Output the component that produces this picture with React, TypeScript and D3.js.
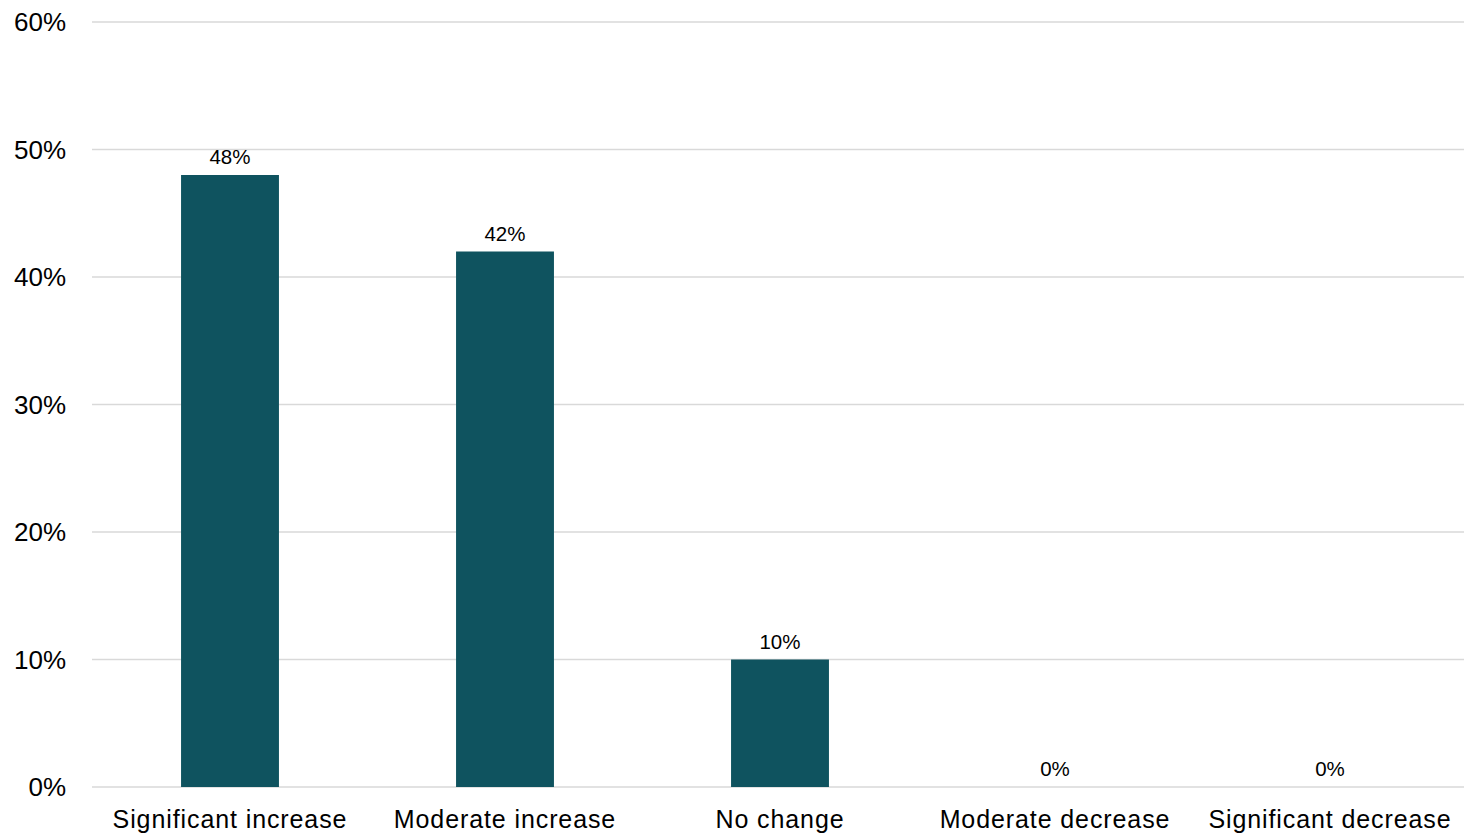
import React from "react";
import * as d3 from "d3";

const categories = [
  "Significant increase",
  "Moderate increase",
  "No change",
  "Moderate decrease",
  "Significant decrease",
];
const values = [48, 42, 10, 0, 0];
const yTicks = [0, 10, 20, 30, 40, 50, 60];

const W = 1464;
const H = 838;
const plot = { left: 92, right: 1467.5, top: 22, bottom: 787 };
const FONT = "'Liberation Sans', Arial, sans-serif";
const BAR = "#0f535f";

export default function App() {
  const x = d3
    .scaleBand<string>()
    .domain(categories)
    .range([plot.left + 0.5, plot.right])
    .paddingInner(0.644)
    .paddingOuter(0.322);
  const y = d3
    .scaleLinear()
    .domain([0, 60])
    .range([plot.bottom, plot.top]);

  return (
    <svg
      width={W}
      height={H}
      style={{ position: "absolute", left: 0, top: 0, background: "#fff" }}
      fontFamily={FONT}
    >
      {yTicks.map((t) => (
        <g key={t}>
          <line
            x1={plot.left}
            x2={W}
            y1={y(t)}
            y2={y(t)}
            stroke="#d9d9d9"
            strokeWidth={1.5}
          />
          <text
            x={66}
            y={y(t)}
            dy="0.35em"
            textAnchor="end"
            fontSize={26}
            fill="#000"
          >
            {t}%
          </text>
        </g>
      ))}
      {categories.map((c, i) => {
        const v = values[i];
        const cx = (x(c) ?? 0) + x.bandwidth() / 2;
        return (
          <g key={c}>
            {v > 0 && (
              <rect
                x={x(c)}
                y={y(v)}
                width={x.bandwidth()}
                height={y(0) - y(v)}
                fill={BAR}
              />
            )}
            <text
              x={cx}
              y={y(v) - 11}
              textAnchor="middle"
              fontSize={20.5}
              fill="#000"
            >
              {v}%
            </text>
            <text
              x={cx}
              y={828}
              textAnchor="middle"
              fontSize={25}
              letterSpacing={0.9}
              fill="#000"
            >
              {c}
            </text>
          </g>
        );
      })}
    </svg>
  );
}
